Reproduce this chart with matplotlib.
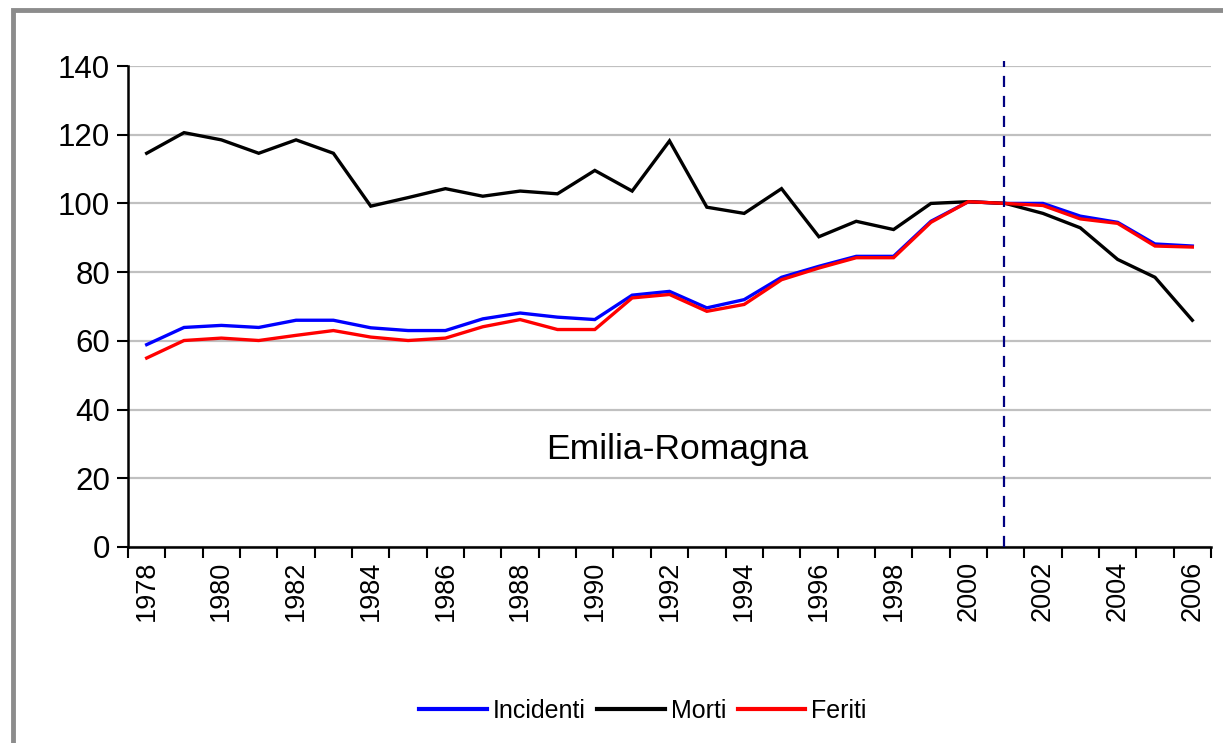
import matplotlib
matplotlib.use("Agg")
import matplotlib.pyplot as plt
from matplotlib.patches import Rectangle
import numpy as np

plt.rcParams['font.family'] = ['Liberation Sans', 'DejaVu Sans']

years = list(range(1978, 2007))
incidenti = [58.9, 63.9, 64.5, 63.9, 66.0, 66.0, 63.8, 63.0, 63.0, 66.4,
             68.1, 66.9, 66.2, 73.3, 74.4, 69.6, 72.0, 78.5, 81.7, 84.6,
             84.6, 94.8, 100.5, 100.0, 100.0, 96.3, 94.5, 88.2, 87.6]
morti = [114.6, 120.6, 118.5, 114.6, 118.5, 114.6, 99.2, 101.7, 104.3, 102.1,
         103.6, 102.8, 109.6, 103.6, 118.2, 98.9, 97.1, 104.3, 90.3, 94.8,
         92.4, 100.0, 100.5, 100.0, 97.1, 92.9, 83.7, 78.5, 66.0]
feriti = [55.0, 60.1, 60.8, 60.1, 61.6, 63.0, 61.1, 60.1, 60.8, 64.1,
          66.2, 63.3, 63.3, 72.5, 73.5, 68.6, 70.6, 77.8, 81.2, 84.2,
          84.2, 94.5, 100.5, 100.0, 99.4, 95.5, 94.2, 87.6, 87.3]
series_names = ["Incidenti", "Morti", "Feriti"]
series_colors = ["#0000ff", "#000000", "#ff0000"]
y_ticks = [0, 20, 40, 60, 80, 100, 120, 140]
marker_year = 2001
region_label = "Emilia-Romagna"

W, H = 1223, 743
fig = plt.figure(figsize=(W / 100, H / 100), dpi=100)

# outer gray frame
fig.patches.append(Rectangle((12.5 / W, -0.05), 1.2, 1 - 10 / H + 0.05,
                             transform=fig.transFigure, fill=False,
                             edgecolor="#8c8c8c", linewidth=3.5, zorder=0))

left, right, top, bottom = 128, 1211, 66, 547
ax = fig.add_axes([left / W, 1 - bottom / H, (right - left) / W, (bottom - top) / H])

x = np.arange(len(years))
for vals, name, col in zip([incidenti, morti, feriti], series_names, series_colors):
    ax.plot(x, vals, color=col, lw=2.4, label=name, solid_joinstyle='miter', zorder=3)

ax.set_xlim(-0.5, len(years) - 0.5)
ax.set_ylim(0, 140)

# grid
ax.set_yticks(y_ticks)
ax.set_yticklabels([str(v) for v in y_ticks], fontsize=22.5)
ax.yaxis.grid(True, color="#c0c0c0", lw=1.6, zorder=0)
ax.set_axisbelow(True)
ax.tick_params(axis='y', direction='out', length=8, width=1.5, pad=5)

# x ticks: minor at boundaries, labels every other year
ax.set_xticks(x[::2])
ax.set_xticklabels([str(y) for y in years[::2]], rotation=90, fontsize=19.5)
ax.set_xticks(np.arange(-0.5, len(years), 1), minor=True)
ax.tick_params(axis='x', which='major', length=0, pad=10)
ax.tick_params(axis='x', which='minor', direction='out', length=8, width=1.5)

for s in ['top', 'right']:
    ax.spines[s].set_visible(False)
ax.spines['left'].set_linewidth(1.8)
ax.spines['bottom'].set_linewidth(1.8)

# dashed vertical marker
xi = years.index(marker_year)
ax.vlines(xi - 0.05, 0, 141.5, colors="#000080", linestyles=(0, (5, 4)), lw=1.6,
          clip_on=False, zorder=4)

ax.text(14.2, 28.5, region_label, fontsize=25.5, ha='center', va='center')

leg = fig.legend(loc='center', bbox_to_anchor=(643 / W, 1 - 711 / H), ncol=3,
                 frameon=False, fontsize=18, handlelength=2.7, handletextpad=0.25,
                 columnspacing=0.45, borderaxespad=0)
for h in leg.get_lines():
    h.set_linewidth(3)

fig.savefig("out.png", dpi=100, facecolor="white")
